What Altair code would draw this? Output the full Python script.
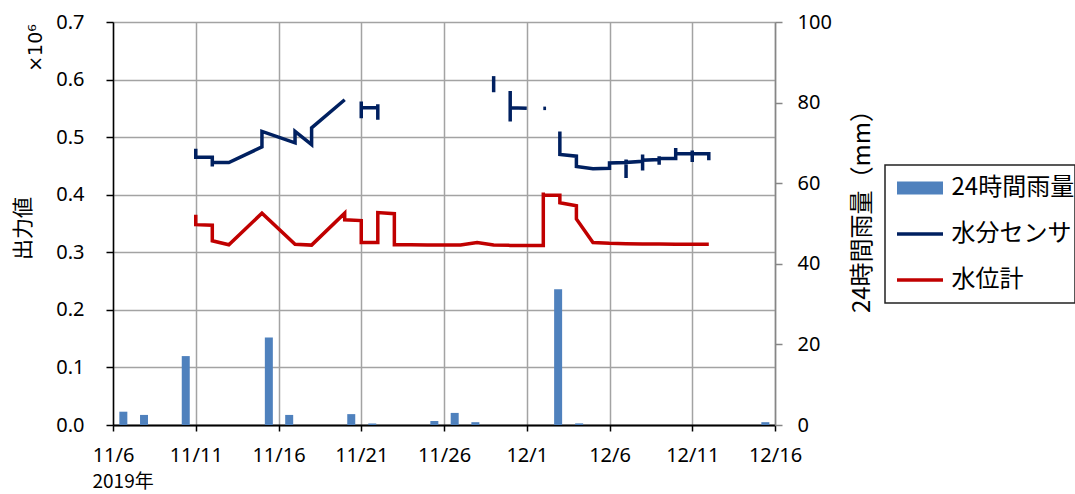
import altair as alt
import pandas as pd

RAIN = "24時間雨量"
SENSOR = "水分センサ"
LEVEL = "水位計"

# 水分センサ output (×10^6); each logger run is its own segment
sensor_time = [
    "2019-11-11T00:00", "2019-11-11T00:00", "2019-11-12T00:00", "2019-11-12T00:00", "2019-11-12T00:00",
    "2019-11-13T00:00", "2019-11-15T00:00", "2019-11-15T00:00", "2019-11-17T00:00", "2019-11-17T00:00",
    "2019-11-18T00:00", "2019-11-18T00:00", "2019-11-20T00:00",
    "2019-11-21T00:00", "2019-11-21T00:00", "2019-11-21T00:00", "2019-11-22T00:00", "2019-11-22T00:00",
    "2019-11-22T00:00",
    "2019-11-29T00:00", "2019-11-29T00:00",
    "2019-11-30T00:00", "2019-11-30T00:00", "2019-11-30T00:00", "2019-12-01T00:00",
    "2019-12-02T00:00", "2019-12-02T04:00",
    "2019-12-03T00:00", "2019-12-03T00:00", "2019-12-04T00:00", "2019-12-04T00:00", "2019-12-05T00:00",
    "2019-12-06T00:00", "2019-12-06T00:00", "2019-12-07T00:00", "2019-12-07T00:00", "2019-12-07T00:00",
    "2019-12-07T00:00", "2019-12-08T00:00", "2019-12-08T00:00", "2019-12-08T00:00", "2019-12-08T00:00",
    "2019-12-09T00:00", "2019-12-09T00:00", "2019-12-09T00:00", "2019-12-09T00:00", "2019-12-10T00:00",
    "2019-12-10T00:00", "2019-12-10T00:00", "2019-12-10T00:00", "2019-12-11T00:00", "2019-12-11T00:00",
    "2019-12-11T00:00", "2019-12-11T00:00", "2019-12-12T00:00", "2019-12-12T00:00",
]
sensor_value = [
    0.480, 0.465, 0.465, 0.449, 0.456,
    0.456, 0.483, 0.510, 0.490, 0.510,
    0.487, 0.516, 0.565,
    0.562, 0.533, 0.551, 0.551, 0.557,
    0.530,
    0.606, 0.578,
    0.580, 0.527, 0.551, 0.550,
    0.550, 0.550,
    0.510, 0.470, 0.467, 0.449, 0.445,
    0.446, 0.455, 0.456, 0.461, 0.429,
    0.456, 0.458, 0.470, 0.442, 0.460,
    0.461, 0.467, 0.452, 0.463, 0.463,
    0.481, 0.460, 0.471, 0.471, 0.477,
    0.457, 0.471, 0.471, 0.460,
]
sensor_seg = (["a"] * 13 + ["b"] * 6 + ["c"] * 2 + ["d"] * 4 + ["e"] * 2 + ["f"] * 29)

# 水位計 output (×10^6)
level_time = [
    "2019-11-11T00:00", "2019-11-11T00:00", "2019-11-12T00:00", "2019-11-12T00:00", "2019-11-13T00:00",
    "2019-11-15T00:00", "2019-11-17T00:00", "2019-11-18T00:00", "2019-11-20T00:00", "2019-11-20T00:00",
    "2019-11-21T00:00", "2019-11-21T00:00", "2019-11-22T00:00", "2019-11-22T00:00", "2019-11-23T00:00",
    "2019-11-23T00:00", "2019-11-24T00:00", "2019-11-25T00:00", "2019-11-26T00:00", "2019-11-27T00:00",
    "2019-11-28T00:00", "2019-11-29T00:00", "2019-11-30T00:00", "2019-12-01T00:00", "2019-12-02T00:00",
    "2019-12-02T00:00", "2019-12-02T00:00", "2019-12-03T00:00", "2019-12-03T00:00", "2019-12-04T00:00",
    "2019-12-04T00:00", "2019-12-05T00:00", "2019-12-06T00:00", "2019-12-07T00:00", "2019-12-08T00:00",
    "2019-12-09T00:00", "2019-12-10T00:00", "2019-12-11T00:00", "2019-12-12T00:00",
]
level_value = [
    0.365, 0.348, 0.347, 0.320, 0.313,
    0.368, 0.314, 0.3125, 0.368, 0.3565,
    0.355, 0.317, 0.317, 0.369, 0.367,
    0.313, 0.313, 0.3125, 0.3125, 0.3125,
    0.317, 0.3125, 0.312, 0.312, 0.312,
    0.404, 0.399, 0.399, 0.386, 0.381,
    0.358, 0.317, 0.3155, 0.315, 0.3145,
    0.3145, 0.314, 0.314, 0.314,
]

# 24時間雨量 (mm)
rain_time = [
    "2019-11-06T15:00", "2019-11-07T21:00", "2019-11-10T09:30", "2019-11-15T10:00", "2019-11-16T15:30",
    "2019-11-20T09:30", "2019-11-21T16:00", "2019-11-25T10:00", "2019-11-26T15:30", "2019-11-27T21:30",
    "2019-12-02T21:30", "2019-12-04T04:00", "2019-12-15T10:00",
]
rain_mm = [3.3, 2.5, 17.1, 21.7, 2.5, 2.7, 0.4, 1.0, 3.0, 0.7, 33.7, 0.4, 0.7]

# x-axis ticks every five days
tick_days = [(11, 6), (11, 11), (11, 16), (11, 21), (11, 26), (12, 1), (12, 6), (12, 11), (12, 16)]
left_ticks = [0.0, 0.1, 0.2, 0.3, 0.4, 0.5, 0.6, 0.7]
right_ticks = [0, 20, 40, 60, 80, 100]

series_names = [RAIN, SENSOR, LEVEL]
series_colors = ["#4F81BD", "#002060", "#C00000"]
series_widths = [13, 3.5, 3.5]

lines = pd.concat([
    pd.DataFrame({"t": sensor_time, "v": sensor_value, "seg": ["s" + s for s in sensor_seg], "series": SENSOR}),
    pd.DataFrame({"t": level_time, "v": level_value, "seg": "w", "series": LEVEL}),
], ignore_index=True)
lines["i"] = range(len(lines))
rain = pd.DataFrame({"t": rain_time, "mm": rain_mm})

W, H = 662, 403
JP = "Noto Sans CJK JP"
NUM = "Noto Sans"
GRID = "#A3A3A3"

x_axis = alt.Axis(
    values=[alt.DateTime(year=2019, month=m, date=d) for m, d in tick_days],
    format="%-m/%-d", labelFont=NUM, labelFontSize=20, labelColor="black",
    labelPadding=14, labelFlush=False, labelOverlap=False,
    tickColor="black", tickSize=6, tickWidth=1.5,
    domainColor="black", domainWidth=2,
    grid=True, gridColor=GRID, gridWidth=1.5,
    title="2019年", titleFont=JP, titleFontSize=19, titleFontWeight="normal", titleColor="black",
    titleAnchor="start", titleAlign="left", titleBaseline="middle", titleX=-21, titleY=56,
)
x_scale = alt.Scale(domain=[alt.DateTime(year=2019, month=11, date=6),
                            alt.DateTime(year=2019, month=12, date=16)], padding=0)


def x_enc():
    return alt.X("t:T", scale=x_scale, axis=x_axis)


bars = alt.Chart(rain).mark_bar(size=8, color="#4F81BD").encode(
    x=x_enc(),
    y=alt.Y("mm:Q", scale=alt.Scale(domain=[0, 100]), axis=alt.Axis(
        orient="right", values=right_ticks, grid=False,
        labelFont=NUM, labelFontSize=20, labelColor="black", labelPadding=15,
        tickColor="#868686", tickSize=7, tickWidth=1.5,
        domainColor="#868686", domainWidth=1.5,
        title="24時間雨量（mm）", titleFont=JP, titleFontSize=24, titleFontWeight="normal",
        titleColor="black", titleAngle=270, titleAlign="center", titleBaseline="middle",
        titleX=87, titleY=183,
    )),
)

line_chart = alt.Chart(lines).mark_line().encode(
    x=x_enc(),
    y=alt.Y("v:Q", scale=alt.Scale(domain=[0, 0.7]), axis=alt.Axis(
        orient="left", values=left_ticks, format=".1f", grid=True, gridColor=GRID, gridWidth=1.5,
        labelFont=NUM, labelFontSize=20, labelColor="black", labelPadding=22,
        tickColor="black", tickSize=7, tickWidth=1.5,
        domainColor="black", domainWidth=1.5,
        title="出力値", titleFont=JP, titleFontSize=21, titleFontWeight="normal",
        titleColor="black", titleAngle=270, titleAlign="center", titleBaseline="middle",
        titleX=-90, titleY=206,
    )),
    color=alt.Color("series:N", scale=alt.Scale(domain=series_names, range=series_colors),
                    legend=alt.Legend(title=None)),
    strokeWidth=alt.StrokeWidth("series:N",
                                scale=alt.Scale(type="ordinal", domain=series_names, range=series_widths),
                                legend=alt.Legend(title=None)),
    detail="seg:N",
    order="i:Q",
)

multiplier = alt.Chart(pd.DataFrame({"label": ["×10⁶"]})).mark_text(
    angle=270, font="DejaVu Sans", fontSize=19, color="black", align="center", baseline="middle",
).encode(x=alt.value(-77), y=alt.value(26), text="label:N")

chart = alt.layer(bars, line_chart, multiplier).resolve_scale(y="independent").properties(
    width=W, height=H,
    autosize=alt.AutoSizeParams(type="none"),
    padding={"left": 113, "top": 22, "right": 300, "bottom": 69},
).configure_view(stroke=None).configure_legend(
    orient="none", legendX=772, legendY=143,
    symbolType="stroke", symbolSize=2116, symbolOffset=5.5, clipHeight=46,
    labelFont=JP, labelFontSize=24, labelColor="black", labelOffset=2,
    padding=0, rowPadding=0, strokeColor="#222222", strokeWidth=1.5,
)

chart.save("out.html", embed_options={"renderer": "svg", "actions": False})
